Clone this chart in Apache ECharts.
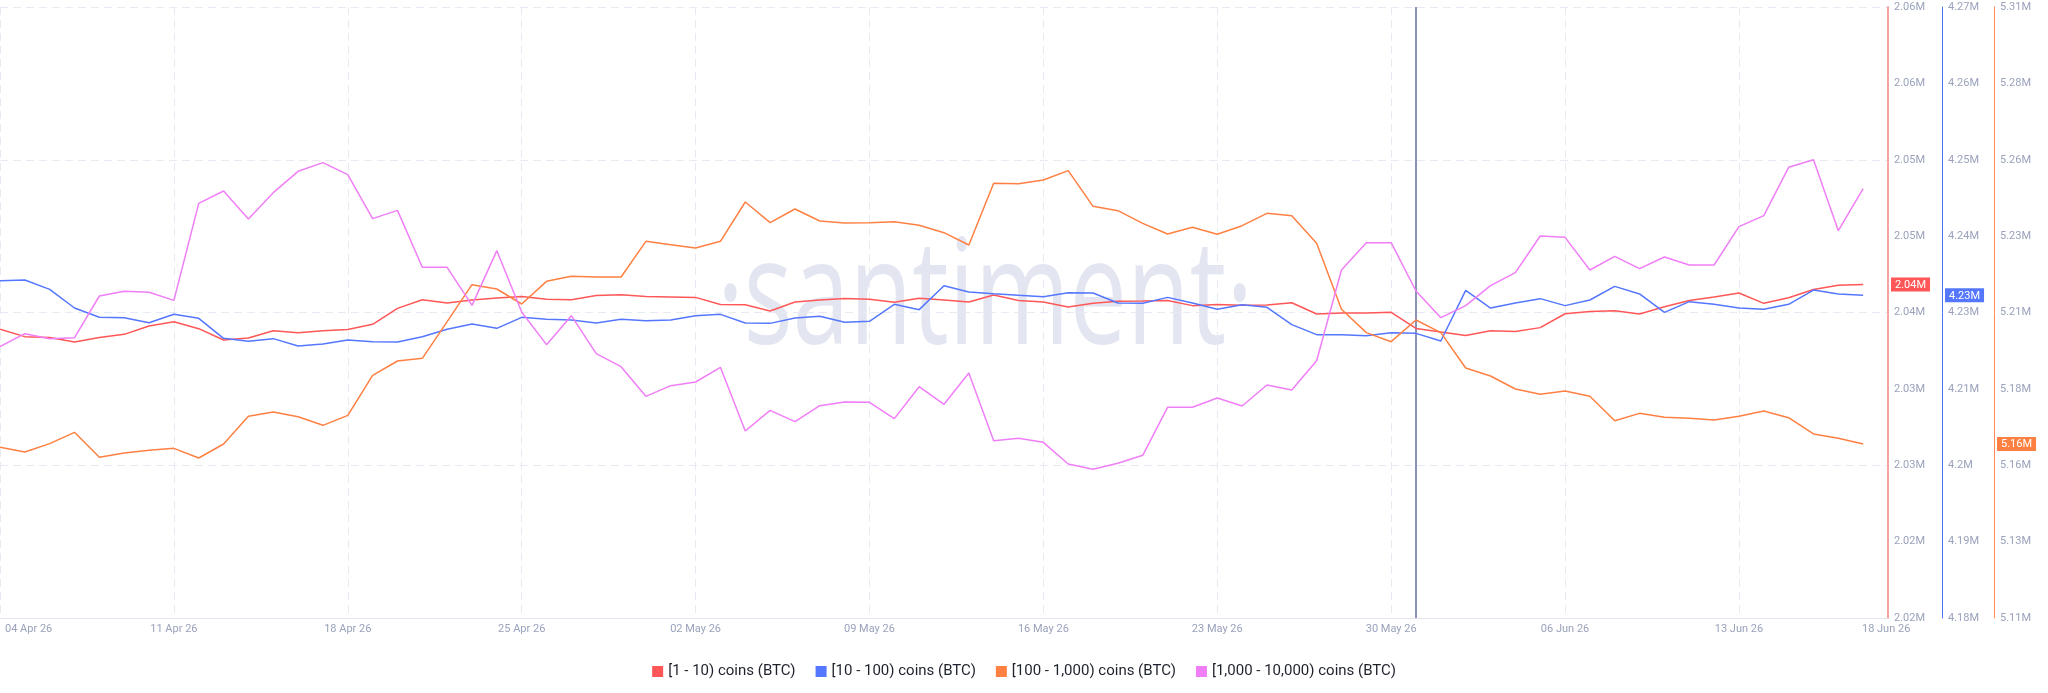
<!DOCTYPE html>
<html>
<head>
<meta charset="utf-8">
<script src="https://cdn.jsdelivr.net/npm/echarts@6/dist/echarts.min.js"></script>
<style>
  html, body { margin: 0; padding: 0; background: #ffffff; }
  #grafico { width: 2048px; height: 693px; }
</style>
</head>
<body>
<div id="grafico"></div>
<script>
// daily categories, 04 Apr 26 .. 19 Jun 26 (last one is empty padding)
const meses = ['Jan', 'Feb', 'Mar', 'Apr', 'May', 'Jun', 'Jul', 'Aug', 'Sep', 'Oct', 'Nov', 'Dec'];
const dias = [];
for (let i = 0; i < 77; i++) {
  const d = new Date(Date.UTC(2026, 3, 4 + i));
  dias.push(String(d.getUTCDate()).padStart(2, '0') + ' ' + meses[d.getUTCMonth()] + ' 26');
}
const diaMarcador = '31 May 26';

const nomes = ['[1 - 10) coins (BTC)', '[10 - 100) coins (BTC)', '[100 - 1,000) coins (BTC)', '[1,000 - 10,000) coins (BTC)'];
const cores = ['#ff5757', '#5577ff', '#ff8043', '#f07ef7'];

const valores1a10 = [
  2038900, 2038420, 2038370, 2038070, 2038370, 2038570, 2039120, 2039400, 2038940, 2038200,
  2038330, 2038810, 2038680, 2038810, 2038880, 2039230, 2040270, 2040840, 2040620, 2040820,
  2040950, 2041040, 2040860, 2040840, 2041120, 2041170, 2041040, 2041020, 2040990, 2040530,
  2040510, 2040100, 2040690, 2040820, 2040910, 2040860, 2040670, 2040930, 2040820, 2040690,
  2041150, 2040780, 2040690, 2040360, 2040600, 2040730, 2040750, 2040780, 2040450, 2040530,
  2040470, 2040490, 2040640, 2039900, 2039970, 2039970, 2040010, 2038960, 2038720, 2038500,
  2038810, 2038750, 2039010, 2039920, 2040060, 2040120, 2039900, 2040380, 2040780, 2041020,
  2041280, 2040600, 2040970, 2041500, 2041780, 2041840
];
const valores10a100 = [
  4229690, 4229790, 4228410, 4225660, 4224290, 4224240, 4223500, 4224730, 4224140, 4221190,
  4220750, 4221150, 4220070, 4220360, 4220950, 4220700, 4220650, 4221440, 4222520, 4223310,
  4222670, 4224290, 4223990, 4223900, 4223450, 4223990, 4223800, 4223900, 4224530, 4224730,
  4223450, 4223400, 4224190, 4224440, 4223550, 4223700, 4226200, 4225420, 4228950, 4228020,
  4227770, 4227530, 4227330, 4227920, 4227870, 4226400, 4226350, 4227230, 4226400, 4225470,
  4226150, 4225760, 4223210, 4221740, 4221740, 4221590, 4222030, 4221930, 4220800, 4228270,
  4225660, 4226400, 4227040, 4226010, 4226840, 4228850, 4227730, 4225020, 4226600, 4226200,
  4225660, 4225470, 4226200, 4228310, 4227730, 4227530
];
const valores100a1000 = [
  5165870, 5164340, 5167070, 5170780, 5162590, 5164010, 5164880, 5165540, 5162370, 5166960,
  5176010, 5177430, 5175900, 5173070, 5176340, 5189430, 5194120, 5195000, 5207000, 5219110,
  5217690, 5212780, 5220200, 5221840, 5221620, 5221620, 5233300, 5232200, 5231110, 5233300,
  5246170, 5239400, 5243880, 5239950, 5239300, 5239400, 5239730, 5238530, 5236130, 5232100,
  5252280, 5252170, 5253370, 5256430, 5244750, 5243330, 5239190, 5235700, 5237880, 5235590,
  5238420, 5242460, 5241700, 5232640, 5211040, 5203400, 5200450, 5207550, 5203400, 5191830,
  5189210, 5184960, 5183210, 5184300, 5182560, 5174590, 5176990, 5175690, 5175360, 5174810,
  5176010, 5177760, 5175580, 5170230, 5168810, 5166960
];
const valores1000a10000 = [
  4388820, 4393070, 4391430, 4391760, 4405400, 4406930, 4406600, 4403980, 4435730, 4439770,
  4430610, 4439230, 4446210, 4449050, 4445120, 4430720, 4433440, 4414790, 4414790, 4402350,
  4420240, 4400160, 4389470, 4398960, 4386530, 4382270, 4372560, 4376050, 4377250, 4382050,
  4361210, 4367980, 4364270, 4369500, 4370700, 4370600, 4365250, 4375720, 4369940, 4380200,
  4358050, 4358810, 4357500, 4350410, 4348660, 4350630, 4353250, 4368960, 4368960, 4372010,
  4369390, 4376270, 4374630, 4384230, 4413910, 4422860, 4422860, 4407040, 4398310, 4402240,
  4408780, 4413040, 4425040, 4424600, 4413910, 4418390, 4414350, 4418170, 4415550, 4415550,
  4428100, 4431700, 4447520, 4450030, 4426790, 4440530
];

// y axes (bottom -> top tick labels)
const rotulos1a10 = ['2.02M', '2.02M', '2.03M', '2.03M', '2.04M', '2.05M', '2.05M', '2.06M', '2.06M'];
const rotulos10a100 = ['4.18M', '4.19M', '4.2M', '4.21M', '4.23M', '4.24M', '4.25M', '4.26M', '4.27M'];
const rotulos100a1000 = ['5.11M', '5.13M', '5.16M', '5.18M', '5.21M', '5.23M', '5.26M', '5.28M', '5.31M'];
const ultimosRotulos = ['2.04M', '4.23M', '5.16M'];

const eixos = [
  { min: 2020000, max: 2060000, rotulos: rotulos1a10, offset: 0, linha: '#f7a3a3', largura: 2 },
  { min: 4180000, max: 4270000, rotulos: rotulos10a100, offset: 54, linha: '#5070f2', largura: 1 },
  { min: 5110000, max: 5310000, rotulos: rotulos100a1000, offset: 106, linha: '#ff8a50', largura: 1 }
];
const ultimos = [valores1a10, valores10a100, valores100a1000].map(v => v[v.length - 1]);

function eixoY(e, k) {
  const passo = (e.max - e.min) / 8;
  const ticks = e.rotulos.map((r, i) => e.min + i * passo);
  return {
    type: 'value',
    position: 'right',
    offset: e.offset,
    min: e.min,
    max: e.max,
    axisLine: { show: true, lineStyle: { color: e.linha, width: e.largura } },
    axisTick: { show: false },
    splitLine: k === 0 ? {
      show: true,
      lineStyle: { color: '#e8eaf3', type: [8, 5], width: 1 }
    } : { show: false },
    axisLabel: {
      color: '#9aa2bc',
      fontSize: 11,
      fontFamily: 'Roboto',
      margin: 6,
      customValues: ticks,
      formatter: v => e.rotulos[Math.round((v - e.min) / passo)]
    },
    axisPointer: {
      show: true,
      status: 'show',
      value: ultimos[k],
      triggerTooltip: false,
      lineStyle: { color: 'transparent', width: 0 },
      label: {
        show: true,
        margin: 3,
        padding: [2, 4, 1, 4],
        fontSize: 11,
        fontFamily: 'Roboto',
        color: '#ffffff',
        backgroundColor: cores[k],
        borderRadius: 0,
        formatter: () => ultimosRotulos[k]
      }
    }
  };
}

const eixosY = eixos.map(eixoY);
eixosY.push({ type: 'value', show: false, min: 4300000, max: 4500000, splitLine: { show: false } });

const grafico = echarts.init(document.getElementById('grafico'));

const opcoes = {
  animation: false,
  backgroundColor: '#ffffff',
  grid: { left: 0, right: 160, top: 7, bottom: 75, containLabel: false },
  // watermark
  graphic: [{
    type: 'text',
    x: 985,
    y: 302,
    scaleX: 0.8,
    scaleY: 1.15,
    z: 0,
    silent: true,
    style: {
      text: '·santiment·',
      x: 0,
      y: 0,
      align: 'center',
      verticalAlign: 'middle',
      font: '500 128px "Open Sans"',
      fill: '#e3e6f1'
    }
  }],
  legend: {
    top: 659,
    left: 'center',
    icon: 'rect',
    itemWidth: 11,
    itemHeight: 11,
    itemGap: 20,
    textStyle: { color: '#1e222c', fontSize: 15, fontFamily: 'Roboto' },
    data: nomes
  },
  xAxis: {
    type: 'category',
    data: dias,
    boundaryGap: false,
    axisLine: { show: true, lineStyle: { color: '#e2e5ef', width: 1 } },
    axisTick: { show: false },
    splitLine: {
      show: true,
      interval: i => i % 7 === 0,
      lineStyle: { color: '#e8eaf3', type: [8, 5], width: 1 }
    },
    axisLabel: {
      color: '#9aa2bc',
      fontSize: 11,
      fontFamily: 'Roboto',
      margin: 6,
      alignMinLabel: 'left',
      interval: i => i % 7 === 0 || i === 75,
      formatter: (v, i) => {
        if (i === 0) return '{first|' + v + '}';
        if (i === 75) return '{last|' + v + '}';
        return v;
      },
      rich: {
        first: { fontSize: 11, color: '#9aa2bc', fontFamily: 'Roboto', padding: [0, 0, 0, 5] },
        last: { fontSize: 11, color: '#9aa2bc', fontFamily: 'Roboto', padding: [0, 0, 0, 46] }
      }
    }
  },
  yAxis: eixosY,
  series: [
    {
      name: nomes[0], type: 'line', yAxisIndex: 0, data: valores1a10,
      showSymbol: false, lineStyle: { color: cores[0], width: 1.5 }, itemStyle: { color: cores[0] },
      z: 5,
      markLine: {
        silent: true,
        symbol: ['none', 'none'],
        label: { show: false },
        lineStyle: { color: '#8a92b9', width: 2, type: 'solid' },
        data: [{ xAxis: diaMarcador }]
      }
    },
    {
      name: nomes[1], type: 'line', yAxisIndex: 1, data: valores10a100,
      showSymbol: false, lineStyle: { color: cores[1], width: 1.5 }, itemStyle: { color: cores[1] }, z: 5
    },
    {
      name: nomes[2], type: 'line', yAxisIndex: 2, data: valores100a1000,
      showSymbol: false, lineStyle: { color: cores[2], width: 1.5 }, itemStyle: { color: cores[2] }, z: 5
    },
    {
      name: nomes[3], type: 'line', yAxisIndex: 3, data: valores1000a10000,
      showSymbol: false, lineStyle: { color: cores[3], width: 1.5 }, itemStyle: { color: cores[3] }, z: 5
    }
  ]
};

grafico.setOption(opcoes);
window.addEventListener('resize', () => grafico.resize());
</script>
</body>
</html>
